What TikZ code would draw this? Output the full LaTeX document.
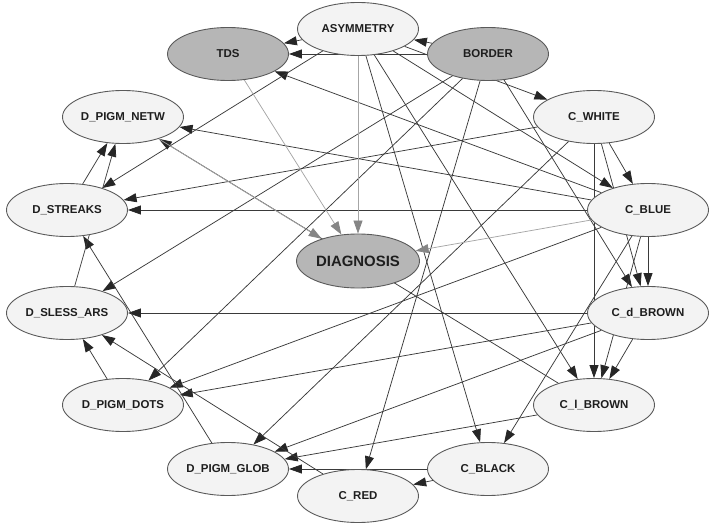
\documentclass[tikz,border=0pt]{standalone}
\usepackage{fontspec}
\setmainfont{Liberation Sans}
\usetikzlibrary{shapes.geometric,arrows.meta}
\pgfdeclarelayer{edges}
\pgfsetlayers{edges,main}

\definecolor{nodeline}{HTML}{5A5A5A}
\definecolor{lightfill}{HTML}{F3F3F3}
\definecolor{darkfill}{HTML}{B6B6B6}
\definecolor{edgecol}{HTML}{3A3A3A}
\definecolor{grayedge}{HTML}{A6A6A6}
\definecolor{grayhead}{HTML}{858585}
\definecolor{labeltext}{HTML}{1E1E1E}

% zero-width label so the ellipse size comes only from the minimum sizes
\newcommand{\nodelabel}[1]{\makebox[0pt]{#1}}

\begin{document}
\begin{tikzpicture}[x=1bp,y=-1bp,
  var/.style={ellipse, draw=nodeline, line width=0.9bp, fill=lightfill,
    minimum width=121bp, minimum height=53bp, inner sep=0pt,
    font=\fontsize{11.5}{13}\selectfont\bfseries, text=labeltext},
  ev/.style={var, fill=darkfill},
  link/.style={draw=edgecol, line width=0.75bp,
    -{Triangle[length=13bp,width=9bp,color=black!85]}},
  glink/.style={draw=grayedge, line width=0.75bp,
    -{Triangle[length=13bp,width=9bp,color=grayhead]}},
]
\useasboundingbox (0,0) rectangle (709,523);

% variables on the outer ring
\node[var] (asy)   at (358,29)  {\nodelabel{ASYMMETRY}};
\node[ev]  (tds)   at (228,54)  {\nodelabel{TDS}};
\node[ev]  (bor)   at (488,54)  {\nodelabel{BORDER}};
\node[var] (cw)    at (594,117) {\nodelabel{C\_WHITE}};
\node[var] (cb)    at (648,210) {\nodelabel{C\_BLUE}};
\node[var] (dbr)   at (648,313) {\nodelabel{C\_d\_BROWN}};
\node[var] (lbr)   at (594,405) {\nodelabel{C\_l\_BROWN}};
\node[var] (blk)   at (488,469) {\nodelabel{C\_BLACK}};
\node[var] (red)   at (358,496) {\nodelabel{C\_RED}};
\node[var] (glob)  at (228,469) {\nodelabel{D\_PIGM\_GLOB}};
\node[var] (dots)  at (123,405) {\nodelabel{D\_PIGM\_DOTS}};
\node[var] (sless) at (67,313)  {\nodelabel{D\_SLESS\_ARS}};
\node[var] (str)   at (67,210)  {\nodelabel{D\_STREAKS}};
\node[var] (netw)  at (123,117) {\nodelabel{D\_PIGM\_NETW}};

% class node in the middle
\node[ev, minimum width=123bp, minimum height=54bp,
  font=\fontsize{15}{18}\selectfont\bfseries] (diag) at (358,261) {\nodelabel{DIAGNOSIS}};

\begin{pgfonlayer}{edges}
  % dependencies among the features
  \draw[link] (asy) -- (tds);
  \draw[link] (bor) -- (tds);
  \draw[link] (cb) -- (tds);
  \draw[link] (bor) -- (asy);
  \draw[link] (asy) -- (cw);
  \draw[link] (asy) -- (cb);
  \draw[link] (asy) -- (str);
  \draw[link] (asy) -- (blk);
  \draw[link] (asy) -- (lbr);
  \draw[link] (bor) -- (sless);
  \draw[link] (bor) -- (dots);
  \draw[link] (bor) -- (red);
  \draw[link] (bor) -- (dbr);
  \draw[link] (cw) -- (str);
  \draw[link] (cw) -- (glob);
  \draw[link] (cw) -- (cb);
  \draw[link] (cw) -- (dbr);
  \draw[link] (cw) -- (lbr);
  \draw[link] (cb) -- (netw);
  \draw[link] (cb) -- (str);
  \draw[link] (cb) -- (dots);
  \draw[link] (cb) -- (blk);
  \draw[link] (cb) -- (lbr);
  \draw[link] (cb) -- (dbr);
  \draw[link] (dbr) -- (sless);
  \draw[link] (dbr) -- (dots);
  \draw[link] (dbr) -- (glob);
  \draw[link] (dbr) -- (lbr);
  \draw[link] (lbr) -- (glob);
  \draw[link] (lbr) -- (netw);
  \draw[link] (blk) -- (glob);
  \draw[link] (blk) -- (red);
  \draw[link] (red) -- (sless);
  \draw[link] (glob) -- (str);
  \draw[link] (dots) -- (sless);
  \draw[link] (sless) -- (netw);
  \draw[link] (str) -- (netw);
  % links into the diagnosis
  \draw[glink] (tds) -- (diag);
  \draw[glink] (asy) -- (diag);
  \draw[glink] (netw) -- (diag);
  \draw[glink] (cb) -- (diag);
\end{pgfonlayer}
\end{tikzpicture}
\end{document}
